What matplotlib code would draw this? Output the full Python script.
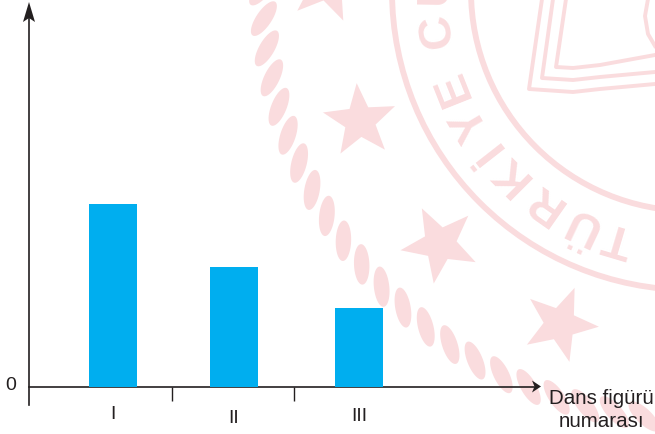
import numpy as np
import matplotlib
matplotlib.use('Agg')
import matplotlib.pyplot as plt
from matplotlib.patches import Polygon, Circle

plt.rcParams['font.family'] = ['Liberation Sans', 'DejaVu Sans']

#--Chart values
categories = ['I', 'II', 'III']
values = [183, 120, 79]
x_label = 'Dans figürü\nnumarası'
zero_label = '0'

#--Layout (one data unit is one pixel)
W, H = 655, 435
BASE_Y = 388
bar_x = [113, 234, 359]
bar_w = 48
tick_x = [172, 294]
label_y = [-27, -31, -29]
INK = '#231F20'
BLUE = '#00AEEF'
PINK = '#FADCDE'

fig = plt.figure(figsize=(W / 100, H / 100), dpi=100)

#--Seal in the background, drawn in pixel coordinates
bg = fig.add_axes([0, 0, 1, 1], zorder=0)
bg.set_xlim(0, W)
bg.set_ylim(H, 0)
bg.axis('off')

CX, CY = 691, -8


def polar(r, deg):
    a = np.radians(deg)
    return CX + r * np.cos(a), CY + r * np.sin(a)


#Rings
for r in [299, 220]:
    bg.add_patch(Circle((CX, CY), r, fill=False, ec=PINK, lw=4.2))

#Rope, one strand shape turned round the circle
t = np.linspace(0, 2 * np.pi, 60)
strand = np.c_[8 * np.sin(t), -19.5 * np.cos(t) - 5 * np.sin(t)]
for deg in np.arange(176.3 + 4 * 3, 92, -4.0):
    mx, my = polar(428, deg)
    phi = np.radians(deg - 90 + 31 - 90)
    rot = np.array([[np.cos(phi), -np.sin(phi)], [np.sin(phi), np.cos(phi)]])
    bg.add_patch(Polygon(strand @ rot.T + [mx, my], fc=PINK, ec='none'))


#Stars
def star(cx, cy, R, tip_deg):
    a = np.radians(tip_deg + np.arange(10) * 72 / 2)
    rad = np.where(np.arange(10) % 2 == 0, R, R * 0.42)
    return np.c_[cx + rad * np.cos(a), cy + rad * np.sin(a)]


for cx, cy, R, tip in [(360, 122, 38, -95), (440, 245, 40, -117),
                       (560, 325, 39, -68), (327, -15, 40, 66)]:
    bg.add_patch(Polygon(star(cx, cy, R, tip), fc=PINK, ec='none'))

#Lettering, tops point away from the centre
letters = [('T', 106.6), ('Ü', 115.3), ('R', 125), ('K', 135), ('İ', 142),
           ('Y', 149.3), ('E', 158.3), ('C', 171.3), ('U', 181)]
for ch, deg in letters:
    x, y = polar(256, deg)
    bg.text(x, y, ch, color=PINK, fontsize=34, fontweight='bold',
            rotation=-deg - 90, rotation_mode='anchor',
            ha='center', va='center')

#Shield outline
shield = [([542, 529, 573, 600, 655], [0, 90, 93, 90, 85]),
          ([553, 542, 573, 600, 655], [0, 79, 81, 78, 73]),
          ([566, 556, 573, 600, 655], [0, 68, 69, 66, 56])]
for sx, sy in shield:
    bg.plot(sx, sy, color=PINK, lw=2.8)
bg.plot([648, 645, 648, 655], [0, 17, 35, 47], color=PINK, lw=2.8)

#--Chart on top
ax = fig.add_axes([0, (H - BASE_Y) / H, 1, BASE_Y / H], zorder=1)
ax.patch.set_visible(False)
ax.set_xlim(0, W)
ax.set_ylim(0, BASE_Y)
for s in ax.spines.values():
    s.set_visible(False)
ax.set_xticks(tick_x)
ax.set_xticklabels([])
ax.set_yticks([])
ax.tick_params(axis='x', length=10, width=1.0, color=INK)
ax.bar(bar_x, values, width=bar_w, color=BLUE, zorder=3)

#Axis lines with notched arrow heads
ax.plot([29, 29], [-18, BASE_Y - 12], color=INK, lw=1.2, clip_on=False, zorder=2)
ax.plot([29, 534], [0.5, 0.5], color=INK, lw=1.2, clip_on=False, zorder=2)
tip = BASE_Y - 3
ax.add_patch(Polygon([(29, tip), (35, tip - 20), (29, tip - 16), (23, tip - 20)],
                     fc=INK, ec='none', zorder=2))
ax.add_patch(Polygon([(541, 0.5), (532, 6.5), (534.5, 0.5), (532, -5.5)],
                     fc=INK, ec='none', zorder=2, clip_on=False))

for x, y, name in zip(bar_x, label_y, categories):
    ax.text(x, y, name, ha='center', va='center', fontsize=14, color=INK,
            clip_on=False)
ax.text(11, 2, zero_label, ha='center', va='center', fontsize=14, color=INK)
ax.text(601, -22, x_label, ha='center', va='center', fontsize=14.8, color=INK,
        linespacing=1.26, clip_on=False, zorder=5)

fig.savefig('out.png', dpi=100)
